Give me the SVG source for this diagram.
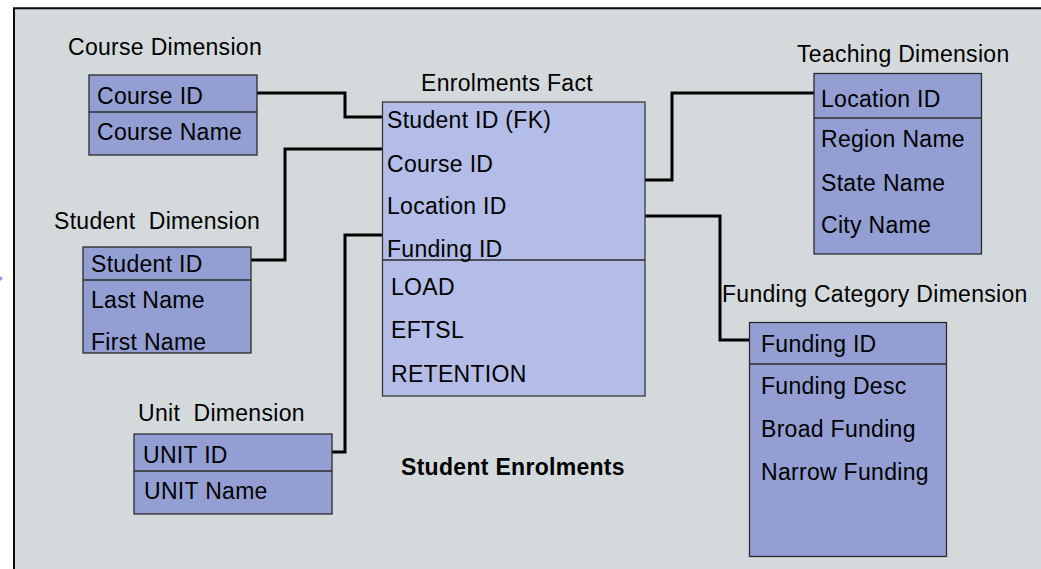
<svg xmlns="http://www.w3.org/2000/svg" width="1041" height="569" viewBox="0 0 1041 569">
<style>
text{font-family:"Liberation Sans",Arial,sans-serif;font-size:23px;letter-spacing:0.3px;fill:#000}
.dim{fill:#939fd3;stroke:#2b2b2b;stroke-width:1.3}
.fact{fill:#b3bde7;stroke:#3a3a3a;stroke-width:1.3}
.div{stroke:#2b2b2b;stroke-width:1.3}
.conn{fill:none;stroke:#000;stroke-width:3}
.title{font-weight:bold}
</style>
<rect x="0" y="0" width="1041" height="569" fill="#ffffff"/>
<rect x="14" y="8" width="1040" height="570" fill="#d4dadb"/>
<path d="M14,569 V8.3 H1041" fill="none" stroke="#0a0a0a" stroke-width="2"/>
<polygon points="0,276 3,278.5 0,281" fill="#7f9fd8"/>
<g id="connectors">
<path class="conn" d="M257,93 H345 V117 H382"/>
<path class="conn" d="M382,149 H285 V260 H251"/>
<path class="conn" d="M332,452 H345 V235 H382"/>
<path class="conn" d="M645,180 H672 V93 H814"/>
<path class="conn" d="M645,216 H720 V340 H749"/>
</g>
<g id="course-dimension">
<text x="68" y="55">Course Dimension</text>
<rect class="dim" x="89" y="75" width="168" height="80"/>
<line class="div" x1="89" y1="112" x2="257" y2="112"/>
<text x="97" y="104">Course ID</text>
<text x="97" y="140">Course Name</text>
</g>
<g id="student-dimension">
<text x="54" y="229" xml:space="preserve">Student  Dimension</text>
<rect class="dim" x="83" y="247" width="168" height="106"/>
<line class="div" x1="83" y1="280" x2="251" y2="280"/>
<text x="91" y="272">Student ID</text>
<text x="91" y="308">Last Name</text>
<text x="91" y="350">First Name</text>
</g>
<g id="unit-dimension">
<text x="138" y="421" xml:space="preserve">Unit  Dimension</text>
<rect class="dim" x="134" y="434" width="198" height="80"/>
<line class="div" x1="134" y1="471" x2="332" y2="471"/>
<text x="143" y="463">UNIT ID</text>
<text x="144" y="499">UNIT Name</text>
</g>
<g id="enrolments-fact">
<text x="421" y="91">Enrolments Fact</text>
<rect class="fact" x="382.5" y="102" width="262.5" height="294"/>
<line class="div" x1="382.5" y1="260" x2="645" y2="260"/>
<text x="387" y="128">Student ID (FK)</text>
<text x="387" y="172">Course ID</text>
<text x="387" y="214">Location ID</text>
<text x="387" y="257">Funding ID</text>
<text x="391" y="295">LOAD</text>
<text x="391" y="338">EFTSL</text>
<text x="391" y="382">RETENTION</text>
</g>
<g id="teaching-dimension">
<text x="797" y="62">Teaching Dimension</text>
<rect class="dim" x="814" y="73.5" width="167.5" height="180.5"/>
<line class="div" x1="814" y1="118" x2="981.5" y2="118"/>
<text x="821" y="107">Location ID</text>
<text x="821" y="147">Region Name</text>
<text x="821" y="191">State Name</text>
<text x="821" y="233">City Name</text>
</g>
<g id="funding-category-dimension">
<text x="722" y="302">Funding Category Dimension</text>
<rect class="dim" x="749.5" y="322.5" width="197" height="234"/>
<line class="div" x1="749.5" y1="364" x2="946.5" y2="364"/>
<text x="761" y="352">Funding ID</text>
<text x="761" y="394">Funding Desc</text>
<text x="761" y="437">Broad Funding</text>
<text x="761" y="480">Narrow Funding</text>
</g>
<g id="caption">
<text class="title" x="401" y="475">Student Enrolments</text>
</g>
</svg>
